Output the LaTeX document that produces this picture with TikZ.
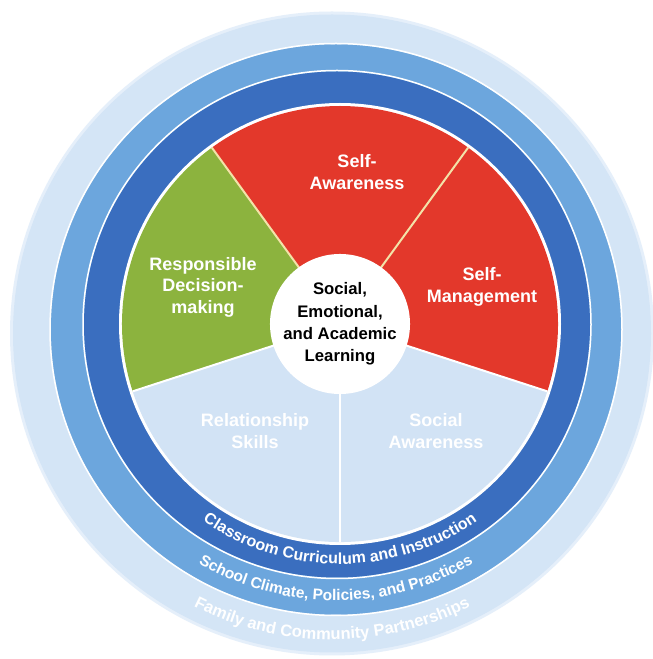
\documentclass[tikz,border=0pt]{standalone}
\usepackage{xcolor}
\usepackage{fontspec}
\setmainfont{Liberation Sans}
\usepackage{tikz}
\usetikzlibrary{positioning, decorations.text}
\definecolor{selfred}{HTML}{E3382B}
\definecolor{decgreen}{HTML}{8CB33E}
\definecolor{paleblue}{HTML}{D2E3F5}
\definecolor{ringdark}{HTML}{3A6EBF}
\definecolor{ringmid}{HTML}{6CA6DD}
\definecolor{ringpale}{HTML}{D4E5F6}
\definecolor{cream}{HTML}{F3E2A8}
\tikzstyle{wedgetext} = [align=center, text=white, font=\bfseries\fontsize{18}{21.5}\selectfont]
\tikzstyle{hubtext} = [circle, fill=white, minimum size=140pt, inner sep=0pt, align=center, font=\bfseries\fontsize{16.7}{22.3}\selectfont]
\tikzstyle{divider} = [line width=2pt, draw=white]
\tikzstyle{ringtext} = [decorate, decoration={text along path, text align=center, text color=white}]

\begin{document}
\begin{tikzpicture}[x=1pt, y=1pt, node distance=181pt]
        % Canvas and centres
        \useasboundingbox [fill=white] (0,0) rectangle (653,659);
        \coordinate (core) at (340,335);
        \coordinate (darkc) at (337,334.5);
        \coordinate (midc) at (336,329.5);
        \coordinate (outc) at (332,325.5);

        % Rings
        \fill [ringpale!60] (outc) circle (322);
        \fill [ringpale] (outc) circle (319);
        \draw [ringmid, fill=ringmid] (midc) circle (285);
        \draw [white, line width=1.5pt] (midc) circle (286);
        \fill [ringdark] (darkc) circle (253);
        \draw [white, line width=1.5pt] (darkc) circle (254);

        % Wedges
        \fill [white] (core) circle (221);
        \fill [selfred] (core) -- ++(-18:218) arc (-18:54:218) -- cycle;
        \fill [selfred] (core) -- ++(54:218) arc (54:126:218) -- cycle;
        \fill [decgreen] (core) -- ++(126:218) arc (126:198:218) -- cycle;
        \fill [paleblue] (core) -- ++(198:218) arc (198:342:218) -- cycle;

        % Dividers
        \draw [divider, draw=cream] (core) -- ++(54:218);
        \draw [divider, draw=cream] (core) -- ++(126:218);
        \draw [divider] (core) -- ++(-18:218);
        \draw [divider] (core) -- ++(198:218);
        \draw [divider] (core) -- ++(270:218);

        % Hub
        \node (hub) [hubtext] at (core) {Social,\\Emotional,\\and Academic\\Learning};

        % Competencies
        \node (selfaware) [wedgetext] at (357,487) {Self-\\Awareness};
        \node (selfmanage) [wedgetext] at (482,372) {Self-\\Management};
        \node (decision) [wedgetext] at (203,372) {Responsible\\Decision-\\making};
        \node (relskills) [wedgetext] at (255,228) {Relationship\\Skills};
        \node (socialaware) [wedgetext, right of=relskills] {Social\\Awareness};

        % Settings along the rings
        \path [ringtext, decoration={text={|\bfseries\fontsize{16}{16}\selectfont|Classroom Curriculum and Instruction}}, shift={(core)}] (218:240) arc (218:322:240);
        \path [ringtext, decoration={text={|\bfseries\fontsize{15.5}{16}\selectfont|School Climate, Policies, and Practices}}, shift={(midc)}] (224:271) arc (224:316:271);
        \path [ringtext, decoration={text={|\bfseries\fontsize{16.5}{17}\selectfont|Family and Community Partnerships}}, shift={(outc)}] (230:306) arc (230:310:306);
\end{tikzpicture}
\end{document}
